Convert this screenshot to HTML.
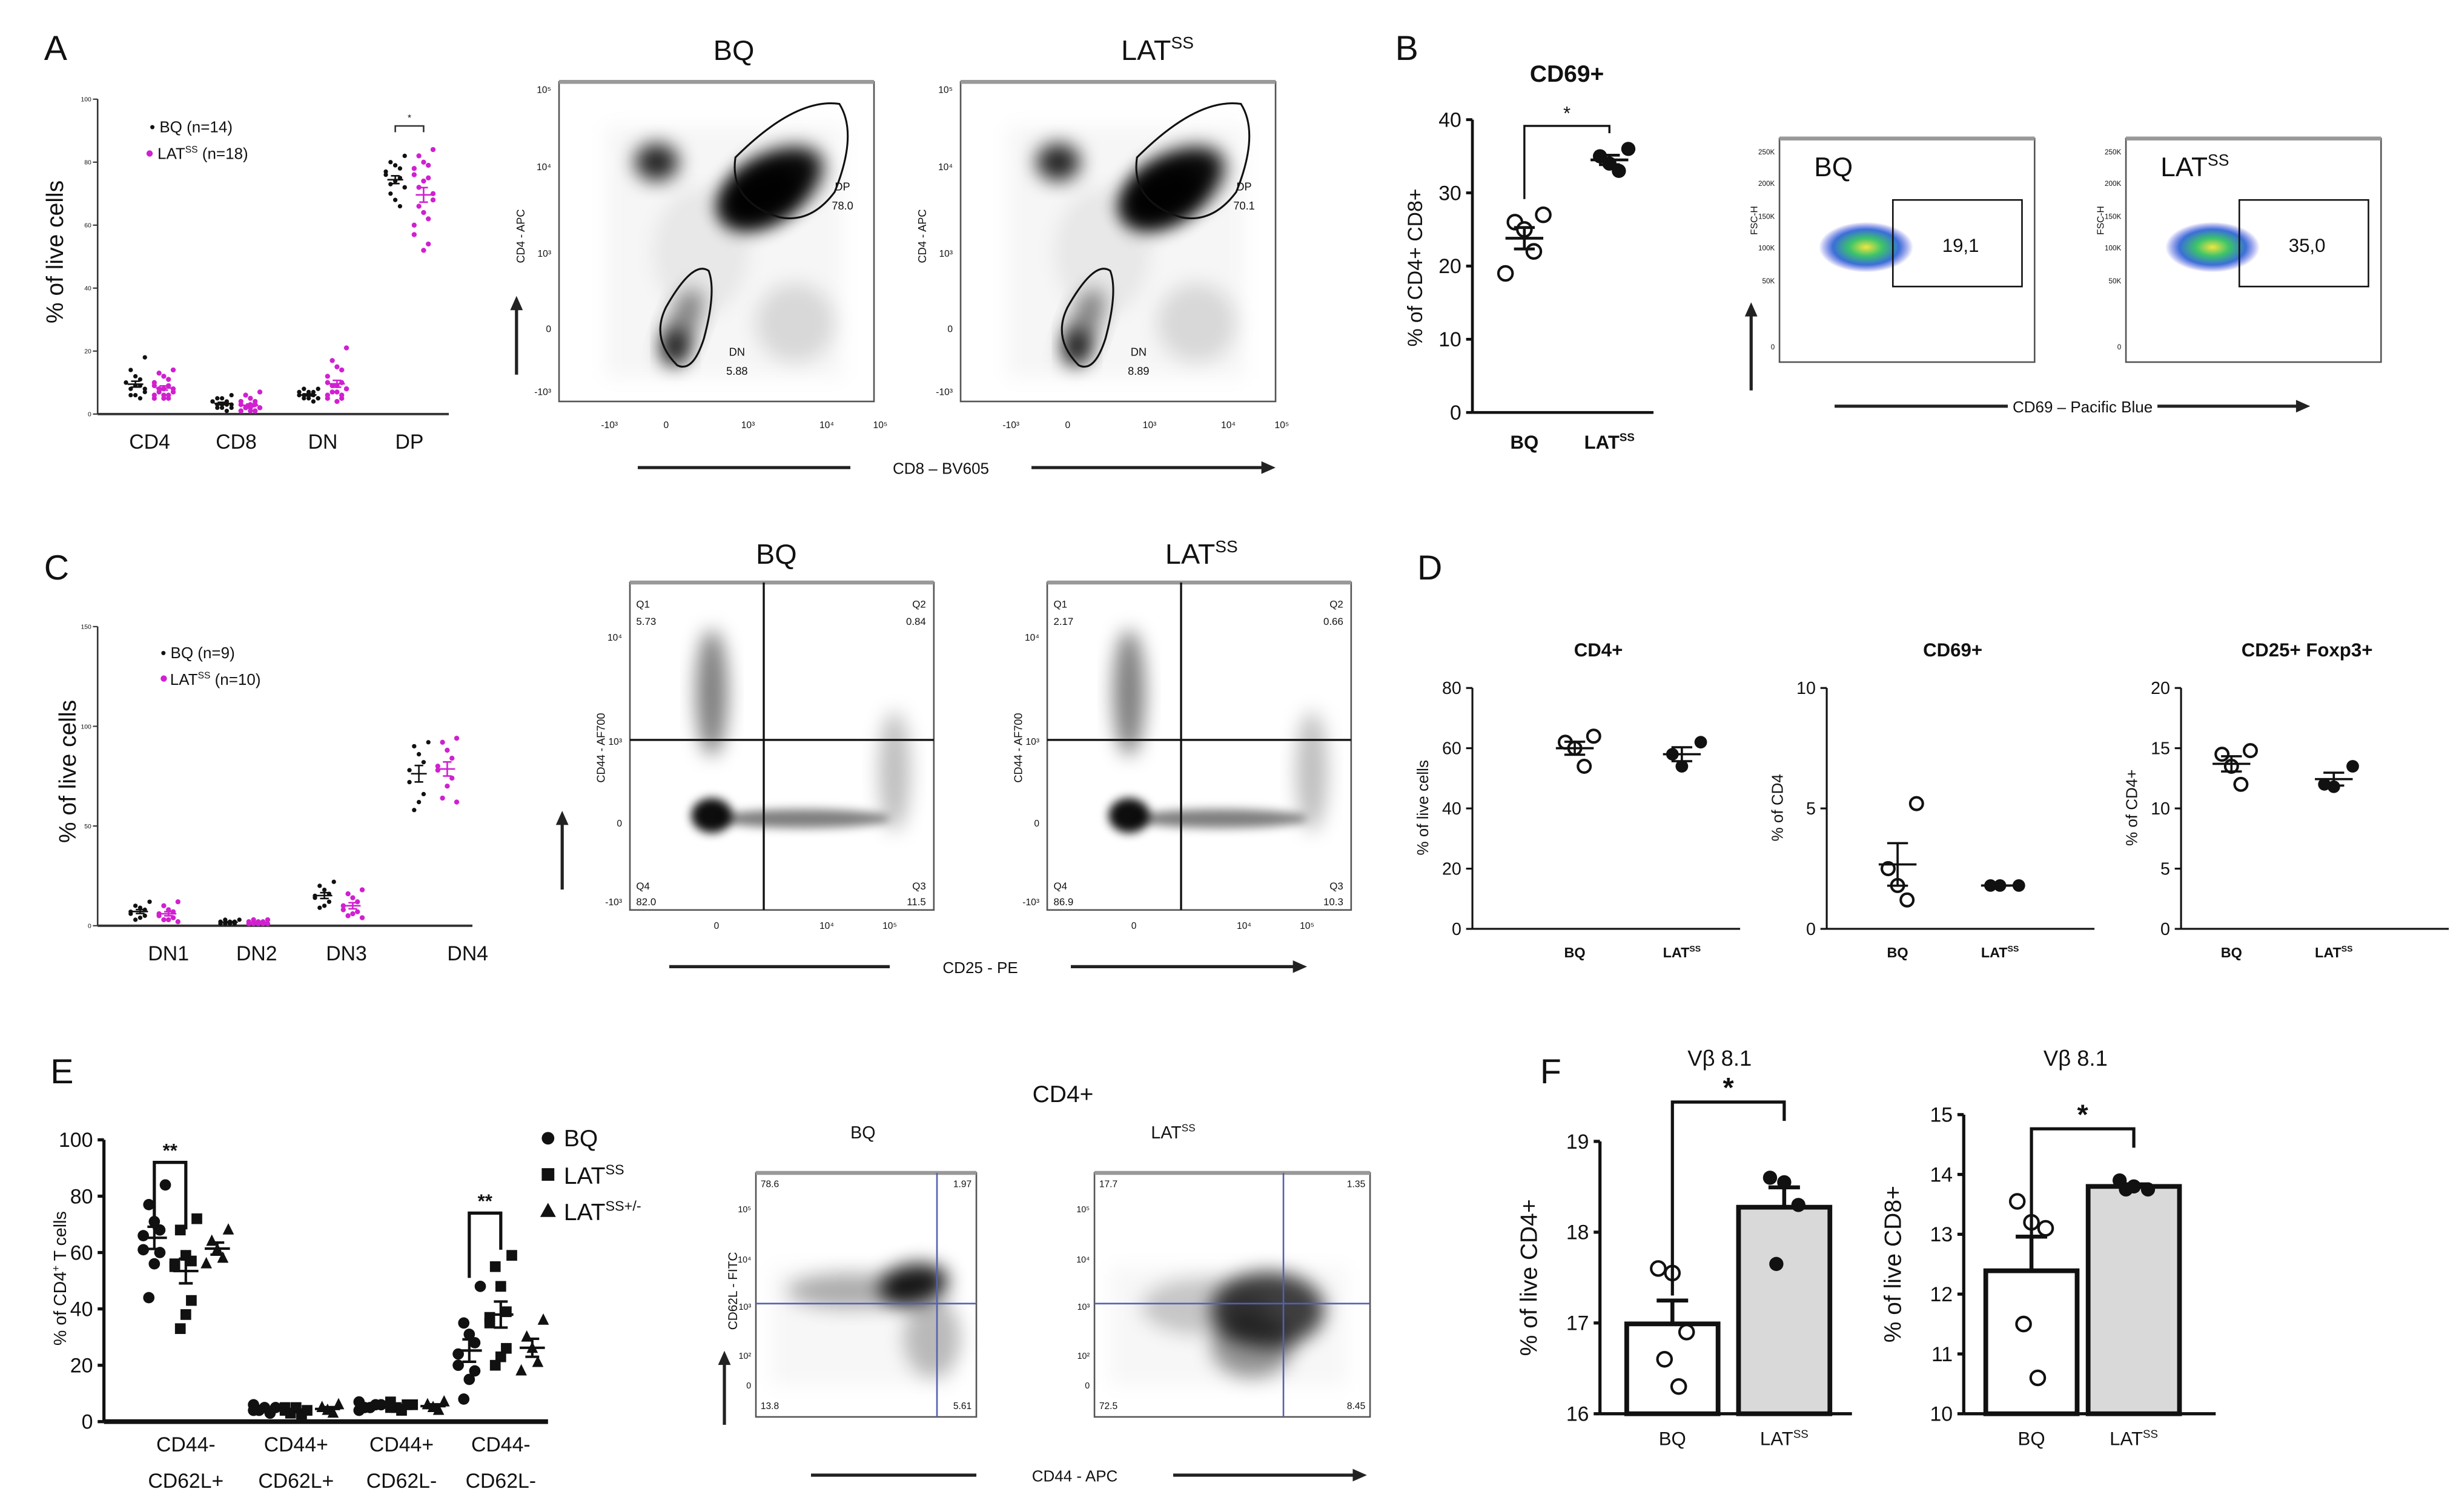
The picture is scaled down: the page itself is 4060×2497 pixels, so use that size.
<!DOCTYPE html>
<html><head><meta charset="utf-8"><style>
html,body{margin:0;padding:0;background:#fff;}
svg{display:block;}
text{font-family:"Liberation Sans",sans-serif;fill:#111;}
</style></head><body>
<svg id="fig" xmlns="http://www.w3.org/2000/svg" width="4060" height="2497" viewBox="0 0 1561.5 960.4" preserveAspectRatio="none">
<defs>
<filter id="bl" x="-50%" y="-50%" width="200%" height="200%"><feGaussianBlur stdDeviation="6"/></filter>
<filter id="bl2" x="-50%" y="-50%" width="200%" height="200%"><feGaussianBlur stdDeviation="3"/></filter>
<radialGradient id="heat"><stop offset="0" stop-color="#f2e640"/><stop offset="0.35" stop-color="#3cc46a"/><stop offset="0.7" stop-color="#3a6fd8"/><stop offset="1" stop-color="#3a3ad8" stop-opacity="0"/></radialGradient>
</defs>
</svg>
<script>
// ---------- DATA ----------
const A_cats=['CD4','CD8','DN','DP'];
const A_bq=[[18,14,12,11,10,10,9,9,8,8,7,6,6,5],[6,5,5,4,4,4,3,3,3,3,2,2,2,1],[8,8,7,7,7,6,6,6,6,5,5,5,5,4],[82,80,79,78,77,76,75,74,73,72,72,70,68,66]];
const A_lat=[[14,13,12,11,10,9,9,8,8,8,7,7,6,6,6,5,5,5],[7,6,5,4,4,3,3,3,2,2,2,2,2,1,1,1,1,1],[21,17,15,14,12,10,10,9,9,8,8,7,7,6,6,5,5,4],[84,82,80,79,78,76,75,74,72,70,68,66,64,62,60,57,54,52]];
const C_cats=['DN1','DN2','DN3','DN4'];
const C_bq=[[12,10,9,8,7,6,5,4,3],[3,3,2,2,2,1,1,1,1],[22,20,18,16,15,14,12,10,9],[92,90,86,82,78,72,66,62,58]];
const C_lat=[[12,10,8,7,6,5,4,3,3,2],[3,3,2,2,2,1,1,1,1,1],[18,16,14,12,10,8,7,6,5,4],[94,92,88,84,80,78,74,70,64,62]];
const B_cats=['BQ','LAT'];
const B_bq=[27,26,25,22,19];
const B_lat=[36,35,34,33];
const D_cd4_bq=[64,62,60,54], D_cd4_lat=[62,58,54];
const D_cd69_bq=[5.2,2.5,1.8,1.2], D_cd69_lat=[1.8,1.8,1.8];
const D_fox_bq=[14.8,14.5,13.5,12], D_fox_lat=[13.5,12,11.8];
const E_cats=[['CD44-','CD62L+'],['CD44+','CD62L+'],['CD44+','CD62L-'],['CD44-','CD62L-']];
const E_bq=[[84,77,71,68,66,61,60,56,44],[5,4,5,3,4,6],[6,5,5,6,4,7],[48,35,31,28,24,20,18,15,8]];
const E_lat=[[72,68,59,57,56,55,43,38,33],[4,3,5,2,4,5],[6,5,4,6,5,7],[59,55,48,39,37,35,26,23,20]];
const E_het=[[68,64,61,58,56],[6,5,4,3],[7,6,5,4],[36,30,26,21,18]];
const F1_bq=[17.6,17.55,16.9,16.6,16.3], F1_lat=[18.6,18.55,18.3,17.65];
const F2_bq=[13.55,13.2,13.1,11.5,10.6], F2_lat=[13.9,13.8,13.75,13.75];

// ---------- HELPERS ----------
const NS='http://www.w3.org/2000/svg';
const svg=document.getElementById('fig');
function el(tag,attrs,parent){const e=document.createElementNS(NS,tag);for(const k in attrs)e.setAttribute(k,attrs[k]);(parent||svg).appendChild(e);return e;}
function txt(x,y,s,size,opts){opts=opts||{};const e=el('text',{x:x,y:y,'font-size':size,'text-anchor':opts.anchor||'middle','font-weight':opts.bold?'bold':'normal'});
 if(opts.rot)e.setAttribute('transform','rotate(-90 '+x+' '+y+')');
 if(opts.sup){e.appendChild(document.createTextNode(s));const t=el('tspan',{'font-size':size*0.6,dy:-size*0.4},e);t.textContent=opts.sup;
  if(opts.after){const t2=el('tspan',{'font-size':size,dy:size*0.4},e);t2.textContent=opts.after;}}else e.textContent=s;
 return e;}
function mean(a){return a.reduce((s,v)=>s+v,0)/a.length;}
function sem(a){const m=mean(a);return Math.sqrt(a.reduce((s,v)=>s+(v-m)*(v-m),0)/(a.length-1))/Math.sqrt(a.length);}
function yScale(y0,y1,v0,v1){return v=>y0+(v-v0)/(v1-v0)*(y1-y0);}
function yAxis(x,sc,ticks,labels,size,w){
 const a=el('line',{x1:x,x2:x,y1:sc(ticks[ticks.length-1]),y2:sc(ticks[0]),stroke:'#111','stroke-width':w||1.5});
 
 
 ticks.forEach((t,i)=>{el('line',{x1:x-4,x2:x,y1:sc(t),y2:sc(t),stroke:'#111','stroke-width':w||1.5});
  const l=txt(x-7,sc(t)+size*0.35,labels[i],size,{anchor:'end'});
  
  });}
function marker(x,y,type,r,fill){let m;
 if(type==='sq')m=el('rect',{x:x-r,y:y-r,width:2*r,height:2*r,fill:fill});
 else if(type==='tri')m=el('polygon',{points:(x)+','+(y-r*1.2)+' '+(x-r)+','+(y+r*0.8)+' '+(x+r)+','+(y+r*0.8),fill:fill});
 else if(type==='open')m=el('circle',{cx:x,cy:y,r:r,fill:'#fff',stroke:'#111','stroke-width':1.6});
 else m=el('circle',{cx:x,cy:y,r:r,fill:fill});
 
 
 return m;}
function group(cx,vals,sc,type,r,fill,spread,mw,lw){
 vals.forEach((v,i)=>{const off=((i%5)-2)*spread*(i%2?1:-1)/2;marker(cx+off,sc(v),type,r,fill);});
 const m=mean(vals),s=sem(vals);
 const ml=el('line',{x1:cx-mw,x2:cx+mw,y1:sc(m),y2:sc(m),stroke:fill==='#fff'?'#111':fill,'stroke-width':lw});
 
 
 el('line',{x1:cx,x2:cx,y1:sc(m-s),y2:sc(m+s),stroke:fill==='#fff'?'#111':fill,'stroke-width':lw});
 el('line',{x1:cx-mw*0.55,x2:cx+mw*0.55,y1:sc(m-s),y2:sc(m-s),stroke:fill==='#fff'?'#111':fill,'stroke-width':lw});
 el('line',{x1:cx-mw*0.55,x2:cx+mw*0.55,y1:sc(m+s),y2:sc(m+s),stroke:fill==='#fff'?'#111':fill,'stroke-width':lw});}
function letter(x,y,s){const t=txt(x,y,s,22,{anchor:'start'});}
function blob(cx,cy,rx,ry,op,rot,f){const e=el('ellipse',{cx:cx,cy:cy,rx:rx,ry:ry,fill:'#000','fill-opacity':op,filter:'url(#'+(f||'bl')+')'});if(rot)e.setAttribute('transform','rotate('+rot+' '+cx+' '+cy+')');return e;}
function box(x,y,w,h,name){const b=el('rect',{x:x,y:y,width:w,height:h,fill:'none',stroke:'#555','stroke-width':1});
 el('line',{x1:x,x2:x+w,y1:y,y2:y,stroke:'#999','stroke-width':2.5});}
function xAxisLabel(x1,x2,x3,x4,y,s){el('line',{x1:x1,x2:x2,y1:y,y2:y,stroke:'#222','stroke-width':2});
 el('line',{x1:x3,x2:x4-6,y1:y,y2:y,stroke:'#222','stroke-width':2});
 el('polygon',{points:x4+','+y+' '+(x4-9)+','+(y-4)+' '+(x4-9)+','+(y+4),fill:'#222'});
 const t=txt((x2+x3)/2,y+4,s,10);}
function upArrow(x,y1,y2){el('line',{x1:x,x2:x,y1:y1,y2:y2+6,stroke:'#222','stroke-width':2});el('polygon',{points:x+','+y2+' '+(x-4)+','+(y2+9)+' '+(x+4)+','+(y2+9),fill:'#222'});}

// ---------- PANEL A ----------
letter(28,38,'A');
{const sc=yScale(263,63,0,100);
 el('line',{x1:62,x2:62,y1:63,y2:263,stroke:'#333','stroke-width':1});
 [0,20,40,60,80,100].forEach(t=>{el('line',{x1:59,x2:62,y1:sc(t),y2:sc(t),stroke:'#333','stroke-width':0.8});txt(58,sc(t)+1.5,String(t),4,{anchor:'end'});});
 el('line',{x1:62,x2:285,y1:263,y2:263,stroke:'#333','stroke-width':1.5});
 const cx=[95,150,205,260];
 A_cats.forEach((c,i)=>{const l=txt(cx[i],285,c,13);
  group(cx[i]-9,A_bq[i],sc,'dot',1.4,'#111',6,5,1);group(cx[i]+9,A_lat[i],sc,'dot',1.6,'#d020d0',6,5,1);});
 txt(40,160,'% of live cells',15,{rot:true});
 el('path',{d:'M251,84 V80 H269 V84',fill:'none',stroke:'#333','stroke-width':1});
 txt(260,77,'*',6);
 txt(95,84,'• BQ (n=14)',10,{anchor:'start'});
 txt(100,101,'LAT',10,{anchor:'start',sup:'SS',after:' (n=18)'});
 el('circle',{cx:95,cy:97.5,r:2,fill:'#d020d0'});}
// flow A
[[355,'BQ',78.0,5.88,466,''],[610,'LAT',70.1,8.89,735,'SS']].forEach((p,i)=>{const x=p[0];
 const t=txt(p[4],38,p[1],18,p[5]?{sup:p[5]}:{});
 box(x,52,200,203,'flow-plot-cd4-cd8');
 el('rect',{x:x+30,y:80,width:150,height:160,fill:'#000','fill-opacity':0.035,filter:'url(#bl)'});
 blob(x+62,103,14,12,0.85);blob(x+135,118,36,20,0.95,-30);blob(x+128,125,28,18,0.9,-30);
 blob(x+78,208,10,26,0.45,20);blob(x+74,220,8,11,0.85);blob(x+150,205,25,25,0.12);blob(x+90,160,30,40,0.06);
 el('path',{d:'M'+(x+112)+',100 Q'+(x+150)+',62 '+(x+178)+',66 Q'+(x+190)+',85 '+(x+175)+',122 Q'+(x+160)+',142 '+(x+140)+',138 Q'+(x+108)+',128 '+(x+112)+',100 Z',fill:'none',stroke:'#111','stroke-width':1.2});
 el('path',{d:'M'+(x+75)+',232 Q'+(x+58)+',215 '+(x+68)+',195 Q'+(x+85)+',165 '+(x+95)+',172 Q'+(x+100)+',185 '+(x+92)+',215 Q'+(x+85)+',237 '+(x+75)+',232 Z',fill:'none',stroke:'#111','stroke-width':1.2});
 txt(x+180,121,'DP',7);txt(x+180,133,p[2].toFixed(1),7);txt(x+113,226,'DN',7);txt(x+113,238,p[3].toFixed(2),7);
 [['10⁵',56],['10⁴',105],['10³',160],['0',208],['-10³',248]].forEach(q=>txt(x-5,q[1]+3,q[0],6,{anchor:'end'}));
 [['-10³',40],['0',76],['10³',128],['10⁴',178],['10⁵',212]].forEach(q=>txt(x+q[1]-8,272,q[0],6));
 txt(x-22,150,'CD4 - APC',7,{rot:true});});
upArrow(328,238,188);
xAxisLabel(405,540,655,810,297,'CD8 – BV605');

// ---------- PANEL B ----------
letter(886,38,'B');
{const sc=yScale(262,76,0,40);
 yAxis(935,sc,[0,10,20,30,40],['0','10','20','30','40'],13,1.8);
 el('line',{x1:935,x2:1050,y1:262,y2:262,stroke:'#111','stroke-width':1.8});
 const t=txt(995,52,'CD69+',15,{bold:true});
 group(968,B_bq,sc,'open',4.5,'#fff',12,12,1.8);group(1022,B_lat,sc,'dot',4.5,'#111',12,12,1.8);
 txt(968,285,'BQ',12,{bold:true});txt(1022,285,'LAT',12,{bold:true,sup:'SS'});
 txt(903,170,'% of CD4+ CD8+',13,{rot:true});
 el('path',{d:'M968,'+(sc(B_bq[0])-10)+' V80 H1022 V'+(sc(B_lat[0])-10),fill:'none',stroke:'#111','stroke-width':1.3});
 txt(995,76,'*',12);}
[[1130,'BQ','19,1',''],[1350,'LAT','35,0','SS']].forEach(p=>{const x=p[0];
 box(x,88,162,142,'flow-plot-fsc-cd69');
 el('ellipse',{cx:x+55,cy:157,rx:30,ry:16,fill:'url(#heat)'});
 el('rect',{x:x+72,y:127,width:82,height:55,fill:'none',stroke:'#111','stroke-width':1});
 txt(x+115,160,p[2],12);
 txt(x+22,112,p[1],17,p[3]?{anchor:'start',sup:p[3]}:{anchor:'start'});
 txt(x-14,140,'FSC-H',6,{rot:true});
 [['250K',96],['200K',116],['150K',137],['100K',157],['50K',178],['0',220]].forEach(q=>txt(x-3,q[1]+2,q[0],4.5,{anchor:'end'}));});
upArrow(1112,248,192);
xAxisLabel(1165,1275,1370,1467,258,'CD69 – Pacific Blue');

// ---------- PANEL C ----------
letter(28,368,'C');
{const sc=yScale(588,398,0,150);
 el('line',{x1:62,x2:62,y1:398,y2:588,stroke:'#333','stroke-width':1});
 [0,50,100,150].forEach(t=>{el('line',{x1:59,x2:62,y1:sc(t),y2:sc(t),stroke:'#333','stroke-width':0.8});txt(58,sc(t)+1.5,String(t),4,{anchor:'end'});});
 el('line',{x1:62,x2:300,y1:588,y2:588,stroke:'#333','stroke-width':1.5});
 const cx=[98,155,215,275], lx=[107,163,220,297];
 C_cats.forEach((c,i)=>{const l=txt(lx[i],610,c,13);
  group(cx[i]-9,C_bq[i],sc,'dot',1.4,'#111',6,5,1);group(cx[i]+9,C_lat[i],sc,'dot',1.6,'#d020d0',6,5,1);});
 txt(48,490,'% of live cells',15,{rot:true});
 txt(102,418,'• BQ (n=9)',10,{anchor:'start'});
 txt(108,435,'LAT',10,{anchor:'start',sup:'SS',after:' (n=10)'});
 el('circle',{cx:104,cy:431,r:2,fill:'#d020d0'});}
[[400,'BQ',['5.73','0.84','82.0','11.5'],493,''],[665,'LAT',['2.17','0.66','86.9','10.3'],763,'SS']].forEach(p=>{const x=p[0];
 const t=txt(p[3],358,p[1],18,p[4]?{sup:p[4]}:{});
 box(x,370,193,208,'flow-plot-cd44-cd25');
 blob(x+52,440,10,40,0.5);blob(x+52,518,13,11,0.95,0,'bl2');blob(x+110,520,55,6,0.5,0,'bl2');blob(x+168,490,10,38,0.25);
 el('line',{x1:x+85,x2:x+85,y1:370,y2:578,stroke:'#111','stroke-width':1.3});
 el('line',{x1:x,x2:x+193,y1:470,y2:470,stroke:'#111','stroke-width':1.3});
 txt(x+4,386,'Q1',6.5,{anchor:'start'});txt(x+4,397,p[2][0],6.5,{anchor:'start'});
 txt(x+188,386,'Q2',6.5,{anchor:'end'});txt(x+188,397,p[2][1],6.5,{anchor:'end'});
 txt(x+4,565,'Q4',6.5,{anchor:'start'});txt(x+4,575,p[2][2],6.5,{anchor:'start'});
 txt(x+188,565,'Q3',6.5,{anchor:'end'});txt(x+188,575,p[2][3],6.5,{anchor:'end'});
 [['10⁴',404],['10³',470],['0',522],['-10³',572]].forEach(q=>txt(x-5,q[1]+3,q[0],6,{anchor:'end'}));
 [['0',55],['10⁴',125],['10⁵',165]].forEach(q=>txt(x+q[1],590,q[0],6));
 txt(x-16,475,'CD44 - AF700',7,{rot:true});});
upArrow(357,565,515);
xAxisLabel(425,565,680,830,614,'CD25 - PE');

// ---------- PANEL D ----------
letter(900,368,'D');
function smallChart(ax,bx,lx,ymax,ticks,title,ytitle,bq,lat){
 const sc=yScale(590,437,0,ymax);
 yAxis(ax,sc,ticks,ticks.map(String),11,1.2);
 el('line',{x1:ax,x2:ax+170,y1:590,y2:590,stroke:'#111','stroke-width':1.2});
 const t=txt(ax+80,417,title,12,{bold:true});
 group(bx,bq,sc,'open',4,'#fff',12,12,1.4);group(lx,lat,sc,'dot',4,'#111',12,12,1.4);
 txt(bx,608,'BQ',9,{bold:true});txt(lx,608,'LAT',9,{bold:true,sup:'SS'});
 txt(ax-28,513,ytitle,10,{rot:true});}
smallChart(935,1000,1068,80,[0,20,40,60,80],'CD4+','% of live cells',D_cd4_bq,D_cd4_lat);
smallChart(1160,1205,1270,10,[0,5,10],'CD69+','% of CD4',D_cd69_bq,D_cd69_lat);
smallChart(1385,1417,1482,20,[0,5,10,15,20],'CD25+ Foxp3+','% of CD4+',D_fox_bq,D_fox_lat);

// ---------- PANEL E ----------
letter(32,688,'E');
{const sc=yScale(903,724,0,100);
 yAxis(66,sc,[0,20,40,60,80,100],['0','20','40','60','80','100'],13,2);
 el('line',{x1:66,x2:348,y1:903,y2:903,stroke:'#111','stroke-width':3});
 const cx=[118,188,255,318];
 E_cats.forEach((c,i)=>{const a=txt(cx[i],922,c[0],13),b=txt(cx[i],945,c[1],13);
  group(cx[i]-20,E_bq[i],sc,'dot',3.6,'#111',7,8,1.6);group(cx[i],E_lat[i],sc,'sq',3.4,'#111',7,8,1.6);group(cx[i]+20,E_het[i],sc,'tri',3.6,'#111',7,8,1.6);});
 el('path',{d:'M98,'+(sc(66)-4)+' V'+sc(92)+' H118 V'+(sc(66)-4),fill:'none',stroke:'#111','stroke-width':2});txt(108,sc(94),'**',12,{bold:true});
 el('path',{d:'M298,'+(sc(51))+' V'+sc(74)+' H318 V'+(sc(61)),fill:'none',stroke:'#111','stroke-width':2});txt(308,sc(76),'**',12,{bold:true});
 const yt=txt(42,812,'% of CD4',11,{rot:true,sup:'+',after:' T cells'});
 el('circle',{cx:348,cy:723,r:4,fill:'#111'});txt(358,728,'BQ',15,{anchor:'start'});
 el('rect',{x:344,y:742,width:8,height:8,fill:'#111'});txt(358,752,'LAT',15,{anchor:'start',sup:'SS'});
 el('polygon',{points:'348,764 343,773 353,773',fill:'#111'});txt(358,775,'LAT',15,{anchor:'start',sup:'SS+/-'});}
{const t=txt(675,700,'CD4+',15);}
[[480,140,'BQ',['78.6','1.97','13.8','5.61'],548,''],[695,175,'LAT',['17.7','1.35','72.5','8.45'],745,'SS']].forEach((p,i)=>{const x=p[0],w=p[1];
 txt(p[4],723,p[2],11,p[5]?{sup:p[5]}:{});
 box(x,745,w,155,'flow-plot-cd62l-cd44');
 el('rect',{x:x+10,y:805,width:w-25,height:75,fill:'#000','fill-opacity':0.03,filter:'url(#bl)'});
 if(i===0){blob(x+100,816,22,13,0.9,-10);blob(x+60,820,40,11,0.3);blob(x+112,850,18,25,0.25);}
 else{blob(x+110,832,36,24,0.75);blob(x+100,855,26,20,0.4);blob(x+70,830,40,18,0.2);}
 const vx=x+(i?120:115);
 el('line',{x1:vx,x2:vx,y1:745,y2:900,stroke:'#5560b0','stroke-width':1});
 el('line',{x1:x,x2:x+w,y1:828,y2:828,stroke:'#5560b0','stroke-width':1});
 txt(x+3,754,p[3][0],6,{anchor:'start'});txt(x+w-3,754,p[3][1],6,{anchor:'end'});
 txt(x+3,895,p[3][2],6,{anchor:'start'});txt(x+w-3,895,p[3][3],6,{anchor:'end'});
 [['10⁵',768],['10⁴',800],['10³',830],['10²',861],['0',880]].forEach(q=>txt(x-3,q[1]+2,q[0],5.5,{anchor:'end'}));});
txt(468,820,'CD62L - FITC',8,{rot:true});
upArrow(460,905,858);
xAxisLabel(515,620,745,868,937,'CD44 - APC');

// ---------- PANEL F ----------
letter(978,688,'F');
function barChart(ax,y0,y1,v0,v1,ticks,bx,lx,bq,lat,ytitle,title,tx,starY){
 const sc=yScale(y0,y1,v0,v1);
 yAxis(ax,sc,ticks,ticks.map(String),13,2);
 el('line',{x1:ax,x2:ax+160,y1:y0,y2:y0,stroke:'#111','stroke-width':2});
 [[bx,bq,'#fff'],[lx,lat,'#d9d9d9']].forEach(g=>{const m=mean(g[1]);
  const r=el('rect',{x:g[0]-29,y:sc(m),width:58,height:y0-sc(m),fill:g[2],stroke:'#111','stroke-width':3});
  
  
  const s=sem(g[1]);el('line',{x1:g[0],x2:g[0],y1:sc(m),y2:sc(m+s),stroke:'#111','stroke-width':2.5});el('line',{x1:g[0]-10,x2:g[0]+10,y1:sc(m+s),y2:sc(m+s),stroke:'#111','stroke-width':2.5});
  g[1].forEach((v,i)=>marker(g[0]+((i%3)-1)*9+(i>2?4:0),sc(v),g[2]==='#fff'?'open':'dot',4.5,'#111'));});
 txt(bx,918,'BQ',12);txt(lx,918,'LAT',12,{sup:'SS'});
 txt(ax-40,(y0+y1)/2,ytitle,15,{rot:true});
 txt(tx,677,title,14);
 el('path',{d:'M'+bx+','+(sc(mean(bq))-18)+' V'+starY+' H'+lx+' V'+(starY+12),fill:'none',stroke:'#111','stroke-width':2});
 txt((bx+lx)/2,starY-3,'*',18,{bold:true});}
barChart(1016,898,725,16,19,[16,17,18,19],1062,1133,F1_bq,F1_lat,'% of live CD4+','Vβ 8.1',1092,700);
barChart(1247,898,708,10,15,[10,11,12,13,14,15],1290,1355,F2_bq,F2_lat,'% of live CD8+','Vβ 8.1',1318,717);
</script>
</body></html>
